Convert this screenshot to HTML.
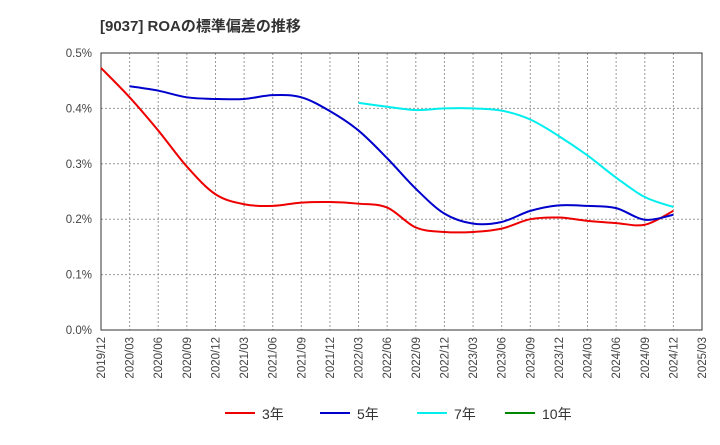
<!DOCTYPE html>
<html><head><meta charset="utf-8"><style>
body{margin:0;background:#fff;font-family:"Liberation Sans","Noto Sans CJK JP",sans-serif;}
</style></head><body>
<svg id="c" width="720" height="440" xmlns="http://www.w3.org/2000/svg"></svg>
<script>
const xLabels=["2019/12","2020/03","2020/06","2020/09","2020/12","2021/03","2021/06","2021/09","2021/12","2022/03","2022/06","2022/09","2022/12","2023/03","2023/06","2023/09","2023/12","2024/03","2024/06","2024/09","2024/12","2025/03"];
const yTicks=[0,0.1,0.2,0.3,0.4,0.5];
const s3=[0.473,0.42,0.36,0.295,0.245,0.227,0.224,0.23,0.231,0.228,0.221,0.185,0.177,0.177,0.183,0.2,0.203,0.197,0.193,0.19,0.215];
const s5=[null,0.44,0.432,0.42,0.417,0.417,0.424,0.42,0.395,0.36,0.31,0.255,0.21,0.192,0.195,0.215,0.225,0.224,0.22,0.199,0.208];
const s7=[null,null,null,null,null,null,null,null,null,0.41,0.403,0.397,0.4,0.4,0.396,0.38,0.35,0.315,0.275,0.24,0.222];
const s10=[];
const X0=101,X1=702,Y0=330,Y1=53;
const x=i=>X0+(X1-X0)*i/(xLabels.length-1);
const y=v=>Y0-(Y0-Y1)*v/0.5;
const svg=document.getElementById('c');const NS='http://www.w3.org/2000/svg';
function el(t,a,txt){const e=document.createElementNS(NS,t);for(const k in a)e.setAttribute(k,a[k]);if(txt!=null)e.textContent=txt;svg.appendChild(e);return e;}
let t=el('text',{x:100,y:31,'font-size':15,'font-weight':'bold',fill:'#333'},'[9037]  ROAの標準偏差の推移');

yTicks.forEach(v=>{const g=el('line',{x1:X0,x2:X1,y1:y(v),y2:y(v),stroke:'#999','stroke-dasharray':v===0?'':'2,2','stroke-width':1});

const l=el('text',{x:92,y:y(v)+4,'font-size':11.5,'text-anchor':'end',fill:'#444'},v.toFixed(1)+'%');
});
xLabels.forEach((s,i)=>{if(i>0&&i<xLabels.length-1){const g=el('line',{x1:x(i),x2:x(i),y1:Y1,y2:Y0,stroke:'#999','stroke-dasharray':'2,2'});
}
const l=el('text',{x:0,y:0,'font-size':11.5,'text-anchor':'end',fill:'#444',transform:`translate(${x(i)+4},337) rotate(-90)`},s);
});
const fr=el('rect',{x:X0,y:Y1,width:X1-X0,height:Y0-Y1,fill:'none',stroke:'#333'});

function path(arr,color,name){const p=[];arr.forEach((v,i)=>{if(v!=null)p.push([x(i),y(v)]);});if(p.length<2)return;
let d='M'+p[0][0]+','+p[0][1];for(let i=0;i<p.length-1;i++){const a=p[i-1]||p[i],b=p[i],c=p[i+1],e=p[i+2]||c;
d+=` C${b[0]+(c[0]-a[0])/6},${b[1]+(c[1]-a[1])/6} ${c[0]-(e[0]-b[0])/6},${c[1]-(e[1]-b[1])/6} ${c[0]},${c[1]}`;}
const l=el('path',{d,fill:'none',stroke:color,'stroke-width':2});}
path(s3,'#e00','line-3y');path(s5,'#00c','line-5y');path(s7,'#0ee','line-7y');path(s10,'#080','line-10y');
[['3年','#e00',225],['5年','#00c',320],['7年','#0ee',417],['10年','#080',505]].forEach(([n,c,lx])=>{
const l=el('line',{x1:lx,x2:lx+30,y1:413,y2:413,stroke:c,'stroke-width':2});
const tx=el('text',{x:lx+37,y:419,'font-size':14,fill:'#333'},n);});
</script></body></html>
